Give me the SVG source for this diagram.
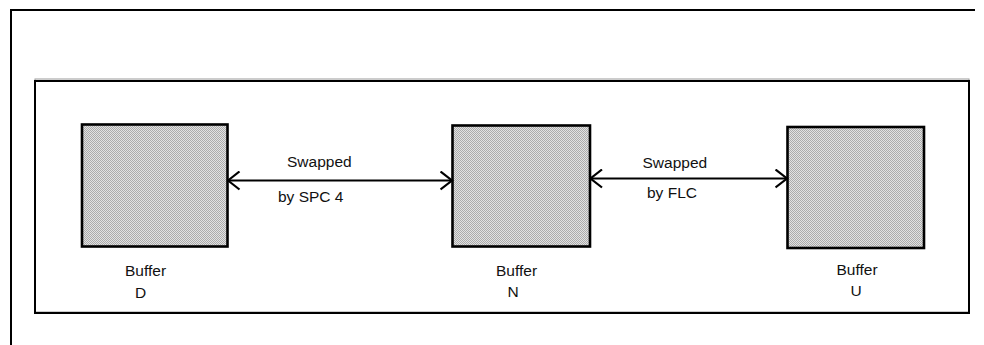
<svg xmlns="http://www.w3.org/2000/svg" width="984" height="345" viewBox="0 0 984 345">
  <style>
    .frame { fill: none; stroke: #000; stroke-width: 2; }
    .box { fill: url(#dots); stroke: #000; stroke-width: 2.6; }
    .conn { fill: none; stroke: #000; stroke-width: 2; marker-start: url(#arr); marker-end: url(#arr); }
    text { font-family: "Liberation Sans", Arial, sans-serif; font-size: 15.5px; fill: #111; }
  </style>
  <defs>
    <pattern id="dots" width="2" height="2" patternUnits="userSpaceOnUse">
      <rect width="2" height="2" fill="#e2e2e2"/>
      <rect width="1" height="1" fill="#ababab"/>
      <rect x="1" y="1" width="1" height="1" fill="#ababab"/>
    </pattern>
    <marker id="arr" viewBox="0 0 14 20" refX="12.5" refY="10" markerWidth="14" markerHeight="20" markerUnits="userSpaceOnUse" orient="auto-start-reverse">
      <path d="M1,1 L12.5,10 L1,19" fill="none" stroke="#000" stroke-width="2.2"/>
    </marker>
  </defs>

  <g id="outer-frame">
    <path class="frame" d="M11,345 L11,10 L975,10"/>
  </g>
  <g id="inner-frame">
    <rect x="35" y="80" width="934" height="233" fill="none" stroke="#999" stroke-width="1" transform="translate(0,-1)"/>
    <rect class="frame" x="35" y="81" width="934" height="232"/>
  </g>

  <g id="buffer-d">
    <rect class="box" x="82" y="124.5" width="145.5" height="122"/>
    <text x="125" y="275.5">Buffer</text>
    <text x="135" y="297.5">D</text>
  </g>
  <g id="buffer-n">
    <rect class="box" x="452.5" y="125.5" width="137.5" height="121"/>
    <text x="496" y="275.5">Buffer</text>
    <text x="507.5" y="297">N</text>
  </g>
  <g id="buffer-u">
    <rect class="box" x="787.5" y="127" width="136.5" height="121"/>
    <text x="836.5" y="275">Buffer</text>
    <text x="850.5" y="296">U</text>
  </g>

  <g id="connectors">
    <line class="conn" x1="228" y1="180.5" x2="452" y2="180.5"/>
    <line class="conn" x1="590.5" y1="178.5" x2="787" y2="178.5"/>
    <text x="287" y="167">Swapped</text>
    <text x="278" y="201.5">by SPC 4</text>
    <text x="642.5" y="167.5">Swapped</text>
    <text x="647" y="198">by FLC</text>
  </g>
</svg>
